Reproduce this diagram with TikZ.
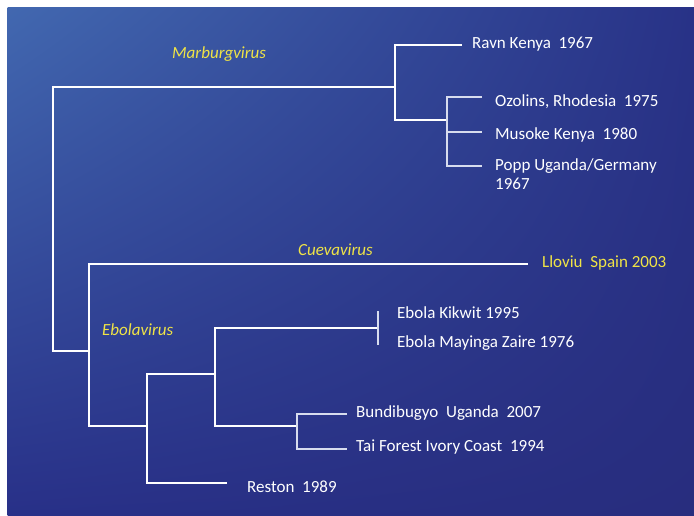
\documentclass[tikz,border=0pt]{standalone}
\usepackage{fontspec}
\setmainfont{Carlito}
\usetikzlibrary{shadings}
\definecolor{gyellow}{RGB}{240,228,70}
\definecolor{bgUL}{RGB}{66,104,176}
\definecolor{bgUR}{RGB}{40,50,135}
\definecolor{bgLL}{RGB}{40,48,136}
\definecolor{bgLR}{RGB}{40,45,126}
\definecolor{thinc}{RGB}{215,220,238}
\begin{document}
\begin{tikzpicture}[x=1pt,y=-1pt,
  thickline/.style={draw=white, line width=2.4pt},
  thinline/.style={draw=thinc, line width=1.1pt},
  leaf/.style={anchor=base west, text=white, inner sep=0pt,
    font=\fontsize{17}{18.5}\selectfont},
  genus/.style={anchor=base west, text=gyellow, inner sep=0pt,
    font=\fontsize{17}{18.5}\selectfont\itshape}]
\useasboundingbox (0,0) rectangle (694,515);
\shade[upper left=bgUL, upper right=bgUR, lower left=bgLL, lower right=bgLR]
  (7.5,7) rectangle (694,515);

% leaf labels
\node[leaf] (ravn) at (472,48.5) {Ravn Kenya~ 1967};
\node[leaf] (ozol) at (495,106) {Ozolins, Rhodesia~ 1975};
\node[leaf] (muso) at (495,139.5) {Musoke Kenya~ 1980};
\node[leaf, align=left] (popp) at (495,189) {Popp Uganda/Germany\\1967};
\node[leaf, text=gyellow] (llov) at (542,267.5) {Lloviu~ Spain 2003};
\node[leaf] (kikw) at (397,318.5) {Ebola Kikwit 1995};
\node[leaf] (mayi) at (397,347.5) {Ebola Mayinga Zaire 1976};
\node[leaf] (bund) at (356,417.5) {Bundibugyo~ Uganda~ 2007};
\node[leaf] (tai) at (356,451.5) {Tai Forest Ivory Coast~ 1994};
\node[leaf] (rest) at (247,492.5) {Reston~ 1989};

% genus labels
\node[genus] (marb) at (172,58.5) {Marburgvirus};
\node[genus] (cuev) at (298,255.5) {Cuevavirus};
\node[genus] (ebol) at (102,335.5) {Ebolavirus};

% junction coordinates
\coordinate (root) at (53,87);
\coordinate (rootB) at (53,351);
\coordinate (mJ) at (395,87);
\coordinate (mT) at (395,45);
\coordinate (mB) at (395,120);
\coordinate (ravnE) at (462,45);
\coordinate (pJ) at (447,120);
\coordinate (pT) at (447,97);
\coordinate (pM) at (447,132);
\coordinate (pB) at (447,166);
\coordinate (ozolE) at (482,97);
\coordinate (musoE) at (482,132);
\coordinate (poppE) at (482,166);
\coordinate (eJ) at (89,351);
\coordinate (eT) at (89,264);
\coordinate (eB) at (89,426);
\coordinate (llovE) at (528,264);
\coordinate (fJ) at (147,426);
\coordinate (fT) at (147,374);
\coordinate (fB) at (147,483);
\coordinate (restE) at (227,483);
\coordinate (gJ) at (215,374);
\coordinate (gT) at (215,328);
\coordinate (gB) at (215,426);
\coordinate (zJ) at (378,328);
\coordinate (zT) at (378,311);
\coordinate (zB) at (378,345);
\coordinate (hJ) at (297,426);
\coordinate (hT) at (297,414);
\coordinate (hB) at (297,449);
\coordinate (bundE) at (347,414);
\coordinate (taiE) at (347,449);

% thick branches
\draw[thickline] (mJ) -- (root) -- (rootB) -- (eJ);
\draw[thickline] (ravnE) -- (mT) -- (mB) -- (pJ);
\draw[thickline] (llovE) -- (eT) -- (eB) -- (fJ);
\draw[thickline] (restE) -- (fB) -- (fT) -- (gJ);
\draw[thickline] (zJ) -- (gT) -- (gB) -- (hJ);

% thin branches
\draw[thinline] (ozolE) -- (pT) -- (pB) -- (poppE);
\draw[thinline] (pM) -- (musoE);
\draw[thinline] (zT) -- (zB);
\draw[thinline] (bundE) -- (hT) -- (hB) -- (taiE);
\end{tikzpicture}
\end{document}
